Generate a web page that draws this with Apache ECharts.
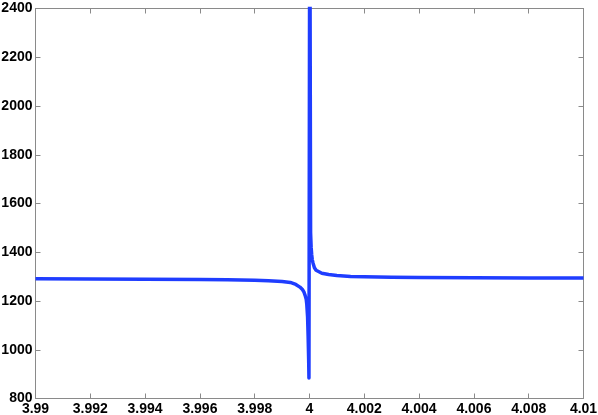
<!DOCTYPE html>
<html>
<head>
<meta charset="utf-8">
<script src="https://cdn.jsdelivr.net/npm/echarts@6/dist/echarts.min.js"></script>
<style>
  html, body { margin: 0; padding: 0; background: #fff; }
  #chart { width: 598px; height: 415px; }
</style>
</head>
<body>
<div id="chart"></div>
<script>
// x positions (frequency-like) and response values
const xs = [
  3.99, 3.992, 3.994, 3.996, 3.997, 3.998, 3.9985, 3.999, 3.9993, 3.9995,
  3.99965, 3.99975, 3.9998, 3.99984, 3.99988, 3.9999, 3.99993, 3.99995, 3.99997, 3.99998,
  4.00001, 4.00004, 4.00006, 4.00008, 4.0001, 4.00013, 4.00018, 4.00024, 4.0003, 4.00045,
  4.0007, 4.001, 4.0015, 4.002, 4.003, 4.004, 4.006, 4.008, 4.01
];
const ys = [
  1291, 1290, 1289, 1288, 1287, 1285, 1283, 1280, 1276, 1268,
  1257, 1246, 1236, 1223, 1207, 1188, 1135, 1055, 955, 884,
  3000, 1480, 1420, 1390, 1370, 1355, 1336, 1326, 1320, 1314,
  1309, 1305, 1301, 1299, 1297, 1296, 1295, 1294, 1294
];

const xMin = 3.99, xMax = 4.01, xStep = 0.002;
const yMin = 800, yMax = 2400, yStep = 200;

const points = xs.map((x, i) => [x, ys[i]]);

const gray = '#8a8a8a';
const labelFont = {
  color: '#000',
  fontFamily: 'Liberation Sans',
  fontWeight: 'bold',
  fontSize: 14
};

function axisBase(extra) {
  return Object.assign({
    type: 'value',
    splitLine: { show: false },
    axisLine: { show: true, lineStyle: { color: gray, width: 1 } },
    axisTick: { show: true, inside: true, length: 5, lineStyle: { color: gray } }
  }, extra);
}

const chart = echarts.init(document.getElementById('chart'));
chart.setOption({
  animation: false,
  grid: {
    left: 35.5, right: 14.5, top: 8.5, bottom: 16.5,
    containLabel: false, outerBoundsMode: 'none'
  },
  xAxis: [
    axisBase({
      min: xMin, max: xMax, interval: xStep, position: 'bottom',
      axisLabel: Object.assign({
        margin: 4,
        showMinLabel: true, showMaxLabel: true, hideOverlap: false,
        formatter: v => String(parseFloat(v.toFixed(4)))
      }, labelFont)
    }),
    axisBase({
      min: xMin, max: xMax, interval: xStep, position: 'top',
      axisLabel: { show: false }
    })
  ],
  yAxis: [
    axisBase({
      min: yMin, max: yMax, interval: yStep, position: 'left',
      axisLabel: Object.assign({
        margin: 3, hideOverlap: false,
        formatter: v => String(v)
      }, labelFont)
    }),
    axisBase({
      min: yMin, max: yMax, interval: yStep, position: 'right',
      axisLabel: { show: false }
    })
  ],
  series: [{
    type: 'line',
    data: points,
    xAxisIndex: 0,
    yAxisIndex: 0,
    showSymbol: false,
    clip: true,
    lineStyle: { color: '#1f3dff', width: 3.5, join: 'round' }
  }]
});
</script>
</body>
</html>
